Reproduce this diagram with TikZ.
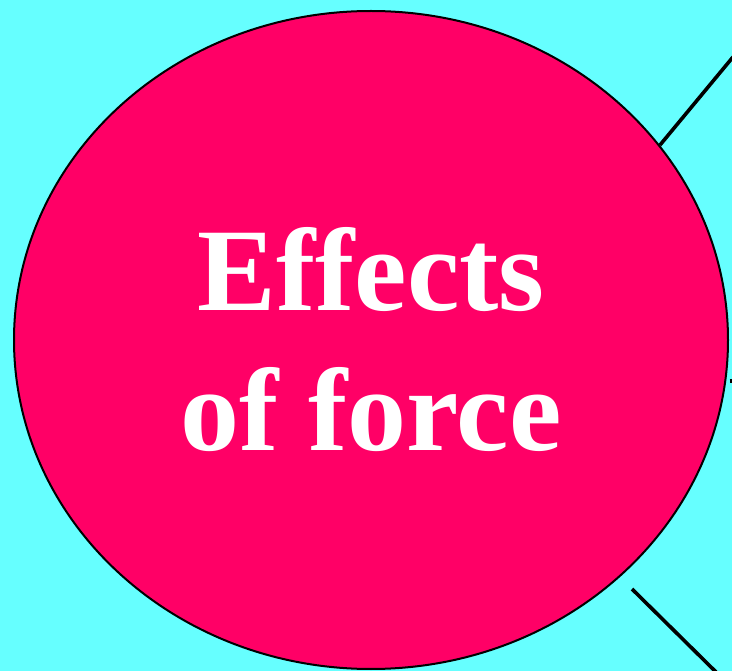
\documentclass[tikz,border=0pt]{standalone}
\usepackage{fontspec}
\setmainfont{Liberation Serif}
\usetikzlibrary{shapes.geometric, positioning}
\definecolor{cBack}{RGB}{102,255,255}
\definecolor{cBubble}{RGB}{255,0,102}
\tikzset{
	bubble/.style={ellipse, draw=black, line width=2pt, fill=cBubble, minimum width=714pt, minimum height=658pt, inner sep=0pt, align=center, text=white, font=\fontsize{118}{140}\selectfont\bfseries},
	spoke/.style ={line width=3.6pt, black},
}

\begin{document}
\begin{tikzpicture}[x=1pt, y=-1pt]
	% background
	\fill[cBack] (0,0) rectangle (732,671);
	\useasboundingbox (0,0) rectangle (732,671);
	% central bubble
	\node[bubble] (effects) at (371,340) {Effects\\of force};
	% free ends of the spokes
	\coordinate (topend) at (733,57);
	\coordinate (midstart) at (729.5,381);
	\coordinate (midend) at (733,381);
	\coordinate (lowstart) at (632,589);
	\coordinate (lowend) at (716,672);
	% spokes
	\draw[spoke] (effects.34) -- (topend);
	\draw[spoke] (midstart) -- (midend);
	\draw[spoke] (lowstart) -- (lowend);
\end{tikzpicture}
\end{document}
